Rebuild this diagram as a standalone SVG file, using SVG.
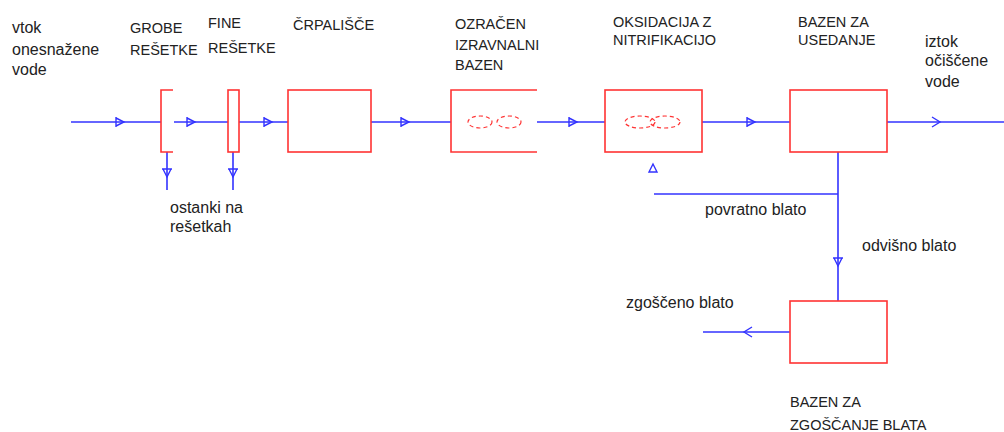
<svg xmlns="http://www.w3.org/2000/svg" xmlns:xlink="http://www.w3.org/1999/xlink" width="1004" height="432" viewBox="0 0 1004 432">
<style>
text{font-family:"Liberation Sans",Arial,sans-serif;font-size:16px;fill:#222}
text.cap{font-size:14.5px}
.box{fill:none;stroke:#ff3333;stroke-width:1.6}
.dash{fill:none;stroke:#ff3333;stroke-width:1.2;stroke-dasharray:4 3}
.ln{fill:none;stroke:#3333ff;stroke-width:1.6}
.ar{fill:none;stroke:#3333ff;stroke-width:1.4}
</style>
<defs>
<g id="arr"><path class="ar" d="M-4,-5 V5 M-4,-4 L4,0 L-4,4"/></g>
<g id="chev"><path class="ar" d="M-4,-5 L4,0 L-4,5"/></g>
</defs>
<rect width="1004" height="432" fill="#fff"/>
<g id="connectors">
<path class="ln" d="M71,122 H161"/>
<path class="ln" d="M174,122 H228"/>
<path class="ln" d="M239,122 H288"/>
<path class="ln" d="M371,122 H451"/>
<path class="ln" d="M537,122 H605"/>
<path class="ln" d="M702,122 H790"/>
<path class="ln" d="M887,122 H1004"/>
<path class="ln" d="M167,152 V190"/>
<path class="ln" d="M233,152 V190"/>
<path class="ln" d="M838,152 V301"/>
<path class="ln" d="M654,194 H838"/>
<path class="ln" d="M790,332 H703"/>
<use href="#arr" x="120" y="122"/>
<use href="#arr" x="191" y="122"/>
<use href="#arr" x="268" y="122"/>
<use href="#arr" x="405" y="122"/>
<use href="#arr" x="573" y="122"/>
<use href="#arr" x="751" y="122"/>
<use href="#chev" x="936" y="122"/>
<use href="#chev" transform="translate(748,332) rotate(180)"/>
<use href="#arr" transform="translate(167,173) rotate(90)"/>
<use href="#arr" transform="translate(233,173) rotate(90)"/>
<use href="#arr" transform="translate(838,262) rotate(90)"/>
<path class="ar" d="M649,172 L653,164 L657,172 Z"/>
</g>
<g id="inflow">
<text x="12" y="33">vtok</text>
<text x="12" y="55">onesnažene</text>
<text x="12" y="75">vode</text>
</g>
<g id="grobe-resetke">
<path class="box" d="M173,90 H161 V152 H173"/>
<text class="cap" x="130" y="33">GROBE</text>
<text class="cap" x="130" y="55">REŠETKE</text>
</g>
<g id="fine-resetke">
<rect class="box" x="228" y="90" width="11" height="62"/>
<text class="cap" x="208" y="28">FINE</text>
<text class="cap" x="208" y="53">REŠETKE</text>
</g>
<g id="ostanki">
<text x="170" y="213">ostanki na</text>
<text x="170" y="232">rešetkah</text>
</g>
<g id="crpalisce">
<rect class="box" x="288" y="90" width="83" height="62"/>
<text class="cap" x="293" y="30">ČRPALIŠČE</text>
</g>
<g id="ozracen-bazen">
<path class="box" d="M537,90 H451 V152 H537"/>
<ellipse class="dash" cx="480" cy="122" rx="12" ry="6"/>
<ellipse class="dash" cx="509" cy="122" rx="12" ry="6"/>
<text class="cap" x="455" y="29">OZRAČEN</text>
<text class="cap" x="455" y="50">IZRAVNALNI</text>
<text class="cap" x="455" y="70">BAZEN</text>
</g>
<g id="oksidacija">
<rect class="box" x="605" y="90" width="97" height="62"/>
<ellipse class="dash" cx="640" cy="122" rx="15" ry="6"/>
<ellipse class="dash" cx="665" cy="122" rx="15" ry="6"/>
<text class="cap" x="613" y="27">OKSIDACIJA Z</text>
<text class="cap" x="613" y="45">NITRIFIKACIJO</text>
</g>
<g id="usedanje">
<rect class="box" x="790" y="90" width="97" height="62"/>
<text class="cap" x="798" y="27">BAZEN ZA</text>
<text class="cap" x="798" y="45">USEDANJE</text>
</g>
<g id="iztok">
<text x="925" y="47">iztok</text>
<text x="925" y="66">očiščene</text>
<text x="925" y="87">vode</text>
</g>
<g id="povratno">
<text x="705" y="215">povratno blato</text>
</g>
<g id="odvisno">
<text x="862" y="251">odvišno blato</text>
</g>
<g id="zgoscevanje">
<rect class="box" x="790" y="301" width="97" height="62"/>
<text class="cap" x="790" y="407">BAZEN ZA</text>
<text class="cap" x="790" y="430">ZGOŠČANJE BLATA</text>
</g>
<g id="zgosceno">
<text x="626" y="308">zgoščeno blato</text>
</g>
</svg>
